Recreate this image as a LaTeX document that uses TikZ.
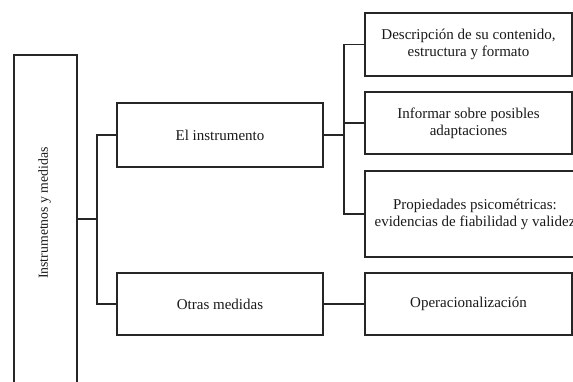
\documentclass[tikz,border=0pt]{standalone}
\usepackage{fontspec}
\setmainfont{Liberation Serif}
\begin{document}
\begin{tikzpicture}[x=1pt,y=-1pt,
  box/.style={draw=black!85, line width=1.5pt, inner sep=0pt, align=center,
    font=\fontsize{15}{17}\selectfont, text=black!90},
  conn/.style={draw=black!85, line width=1.5pt}]
\useasboundingbox (0,0) rectangle (573,381);
\clip (0,0) rectangle (573,381);
% root
\node[box, minimum width=63pt, minimum height=380pt, anchor=north west] (root) at (13,54) {};
\node[box, draw=none, rotate=90, font=\fontsize{13.8}{16}\selectfont] (roottext) at (44.5,213) {Instrumetnos y medidas};
% level 1
\node[box, minimum width=206pt, minimum height=64pt] (inst) at (220,135) {El instrumento};
\node[box, minimum width=206pt, minimum height=62pt] (otras) at (220,304) {Otras medidas};
% level 2
\node[box, minimum width=207pt, minimum height=63pt] (d1) at (468.5,44.5) {Descripción de su contenido,\\estructura y formato};
\node[box, minimum width=207pt, minimum height=62pt] (d2) at (468.5,123) {Informar sobre posibles\\adaptaciones};
\node[box, minimum width=220pt, minimum height=86pt] (d3) at (475,214) {Propiedades psicométricas:\\evidencias de fiabilidad y validez};
\node[box, minimum width=207pt, minimum height=62pt] (op) at (468.5,304) {Operacionalización};
% junctions
\coordinate (j1) at (97,219);
\coordinate (j2) at (344,135);
% connectors
\draw[conn] (root.east |- j1) -- (j1);
\draw[conn] (j1) |- (inst.west);
\draw[conn] (j1) |- (otras.west);
\draw[conn] (inst.east) -- (j2);
\draw[conn] (j2) |- (d1.west);
\draw[conn] (j2) |- (d2.west);
\draw[conn] (j2) |- (d3.west);
\draw[conn] (otras.east) -- (op.west);
\end{tikzpicture}
\end{document}
